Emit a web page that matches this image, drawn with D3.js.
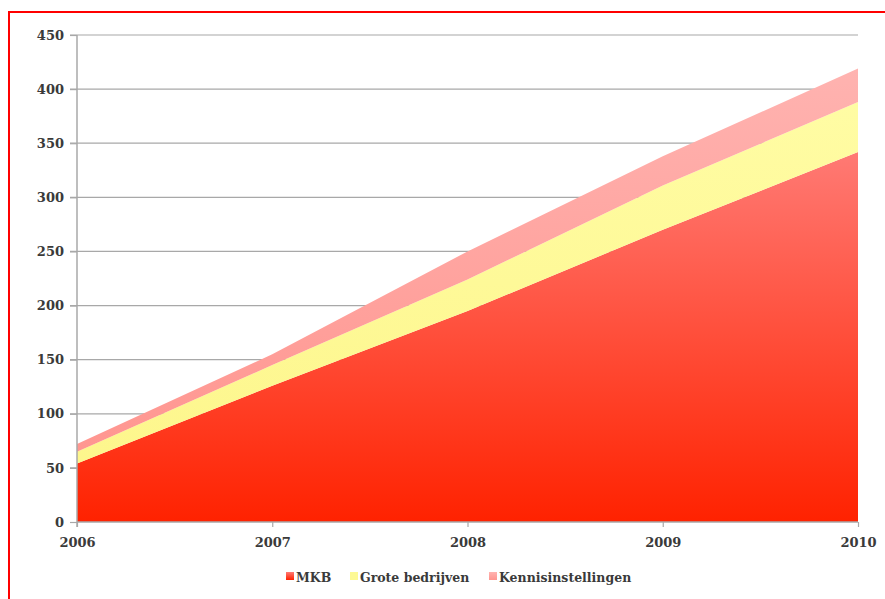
<!DOCTYPE html>
<html><head><meta charset="utf-8">
<script src="https://cdn.jsdelivr.net/npm/d3@7"></script>
<style>
html,body{margin:0;padding:0;background:#fff;}
svg{display:block;}
text{font-family:"DejaVu Serif","Liberation Serif",serif;font-weight:bold;fill:#3a3a3a;}
</style></head><body>
<svg id="c" width="885" height="599"></svg>
<script>
const years = [2006, 2007, 2008, 2009, 2010];
const seriesNames = ["MKB", "Grote bedrijven", "Kennisinstellingen"];
const mkb = [54, 126, 195, 270, 342];
const grote = [11, 19, 29, 41, 46];
const kennis = [7, 10, 26, 27, 31];
const yTicks = [0, 50, 100, 150, 200, 250, 300, 350, 400, 450];

const svg = d3.select("#c");
const W = 885, H = 599;
const x = d3.scaleLinear().domain([2006, 2010]).range([77, 858]);
const y = d3.scaleLinear().domain([0, 450]).range([522, 35]);

// frame
svg.append("path").attr("d", `M9,${H+5} L9,12 L${W+5},12`).attr("fill","none").attr("stroke","#ff0000").attr("stroke-width",2);

const defs = svg.append("defs");
function grad(id, top, bottom){
  const g = defs.append("linearGradient").attr("id", id).attr("x1",0).attr("y1",0).attr("x2",0).attr("y2",1);
  g.append("stop").attr("offset","0%").attr("stop-color",top);
  g.append("stop").attr("offset","100%").attr("stop-color",bottom);
}
grad("gMKB", "#ff7a74", "#ff2200");
grad("gGrote", "#fffca4", "#fdf68c");
grad("gKennis", "#ffb3b0", "#ff9690");
const fills = ["url(#gMKB)", "url(#gGrote)", "url(#gKennis)"];

// gridlines
svg.append("g").selectAll("line").data(yTicks.filter(d=>d>0)).join("line")
  .attr("x1", 70).attr("x2", 858).attr("y1", d=>y(d)).attr("y2", d=>y(d))
  .attr("stroke", "#a8a8a8").attr("stroke-width", 1.2);

const table = years.map((yr,i)=>({year:yr, MKB:mkb[i], "Grote bedrijven":grote[i], Kennisinstellingen:kennis[i]}));
const stack = d3.stack().keys(seriesNames)(table);
const area = d3.area().x(d=>x(d.data.year)).y0(d=>y(d[0])).y1(d=>y(d[1]));
svg.append("g").selectAll("path").data(stack).join("path")
  .attr("d", area).attr("fill", (d,i)=>fills[i]);

// y axis
const yAxis = d3.axisLeft(y).tickValues(yTicks).tickSize(7).tickPadding(6);
const gy = svg.append("g").attr("transform","translate(77,0)").call(yAxis);
gy.select(".domain").attr("stroke","#a8a8a8").attr("stroke-width",1.5).attr("d","M0,35V527");
gy.selectAll(".tick line").attr("stroke","#a8a8a8").attr("stroke-width",1.2);
gy.selectAll(".tick text").attr("font-size",13).attr("fill","#3a3a3a").attr("font-family","DejaVu Serif").attr("font-weight","bold");

// x axis
const xAxis = d3.axisBottom(x).tickValues(years).tickFormat(d3.format("d")).tickSize(5).tickPadding(11);
const gx = svg.append("g").attr("transform","translate(0,522)").call(xAxis);
gx.select(".domain").attr("stroke","#a8a8a8").attr("stroke-width",1.5).attr("d","M77,0H858");
gx.selectAll(".tick line").attr("stroke","#a8a8a8").attr("stroke-width",1.2);
gx.selectAll(".tick text").attr("font-size",13).attr("fill","#3a3a3a").attr("font-family","DejaVu Serif").attr("font-weight","bold");

// legend
const legendX = [286, 350, 489];
const legendFills = ["url(#gMKB)", "#fdf995", "url(#gKennis)"];
const lg = svg.append("g");
seriesNames.forEach((n,i)=>{
  lg.append("rect").attr("x", legendX[i]).attr("y", 572).attr("width", 8).attr("height", 8).attr("fill", legendFills[i]);
  lg.append("text").attr("x", legendX[i]+10).attr("y", 582).attr("font-size", 12.5).text(n);
});
</script>
</body></html>
